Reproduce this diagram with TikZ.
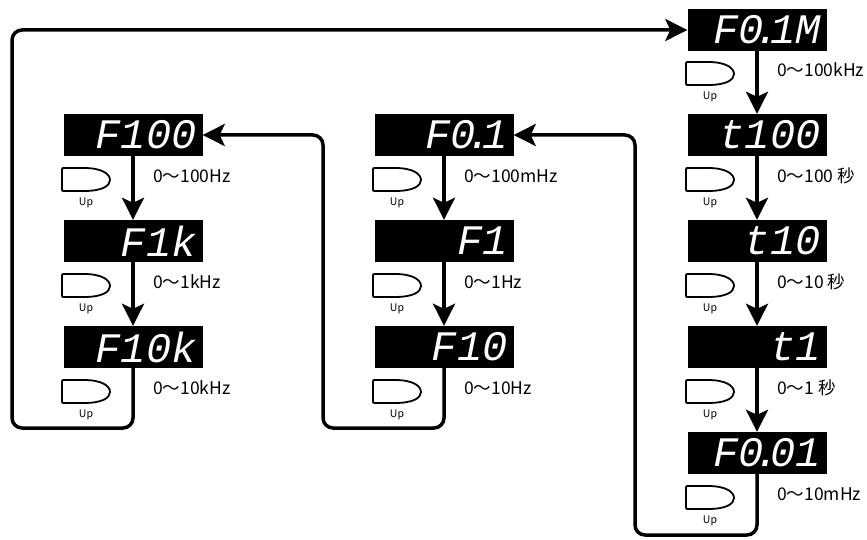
\documentclass[tikz,border=0pt]{standalone}
\usepackage{fontspec}
\usetikzlibrary{arrows.meta}
\newfontfamily\cjkfont{Noto Sans CJK JP}
\newfontfamily\segfont{Liberation Mono}
\newcommand\segdot{\makebox[.15em]{.}}

\begin{document}
\begin{tikzpicture}[x=1pt, y=-1pt,
  disp/.style={fill=black, text=white, inner xsep=6pt, inner ysep=0pt,
    text width=127pt, align=right, minimum height=42pt,
    font=\segfont\itshape\fontsize{42}{42}\selectfont},
  rng/.style={anchor=west, inner sep=0pt, font=\cjkfont\fontsize{17.5}{20}\selectfont},
  uplbl/.style={inner sep=0pt, font=\cjkfont\fontsize{10.5}{12}\selectfont},
  flow/.style={line width=3.5pt, -{Stealth[length=22pt, width=22pt, inset=5pt]}},
  upkey/.pic={\draw[line width=1.8pt, line join=round]
    (2,0) -- (22,0) .. controls (40,0) and (48,6) .. (48,12)
    .. controls (48,18) and (40,23) .. (22,23) -- (2,23)
    .. controls (0,23) .. (0,21) -- (0,2) .. controls (0,0) .. (2,0) -- cycle;}]
\useasboundingbox (0,0) rectangle (867,540);

% right column
\node[disp] (f01m) at (757,30) {F0\segdot1M};
\node[disp] (t100) at (757,135) {t100};
\node[disp] (t10) at (757,241) {t10};
\node[disp] (t1) at (757,347) {t1};
\node[disp] (f001) at (757,453) {F0\segdot01};
% left column
\node[disp] (f100) at (133,135) {F100};
\node[disp] (f1k) at (133,241) {F1k};
\node[disp] (f10k) at (133,347) {F10k};
% middle column
\node[disp] (f01) at (444,135) {F0\segdot1};
\node[disp] (f1) at (444,241) {F1};
\node[disp] (f10) at (444,347) {F10};

% Up keys
\pic at (686,62) {upkey};  \node[uplbl] (up1) at (710,97) {Up};
\pic at (686,168) {upkey}; \node[uplbl] (up2) at (710,203) {Up};
\pic at (686,274) {upkey}; \node[uplbl] (up3) at (710,309) {Up};
\pic at (686,380) {upkey}; \node[uplbl] (up4) at (710,415) {Up};
\pic at (686,486) {upkey}; \node[uplbl] (up5) at (710,521) {Up};
\pic at (62,168) {upkey};  \node[uplbl] (up6) at (86,203) {Up};
\pic at (62,274) {upkey};  \node[uplbl] (up7) at (86,309) {Up};
\pic at (62,380) {upkey};  \node[uplbl] (up8) at (86,415) {Up};
\pic at (373,168) {upkey}; \node[uplbl] (up9) at (397,203) {Up};
\pic at (373,274) {upkey}; \node[uplbl] (up10) at (397,309) {Up};
\pic at (373,380) {upkey}; \node[uplbl] (up11) at (397,415) {Up};

% ranges
\node[rng] (r1) at (777,70) {0〜100kHz};
\node[rng] (r2) at (777,176) {0〜100 秒};
\node[rng] (r3) at (777,282) {0〜10 秒};
\node[rng] (r4) at (777,388) {0〜1 秒};
\node[rng] (r5) at (777,494) {0〜10mHz};
\node[rng] (r6) at (153,176) {0〜100Hz};
\node[rng] (r7) at (153,282) {0〜1kHz};
\node[rng] (r8) at (153,388) {0〜10kHz};
\node[rng] (r9) at (464,176) {0〜100mHz};
\node[rng] (r10) at (464,282) {0〜1Hz};
\node[rng] (r11) at (464,388) {0〜10Hz};

% steps
\draw[flow] (f01m) -- (t100);
\draw[flow] (t100) -- (t10);
\draw[flow] (t10) -- (t1);
\draw[flow] (t1) -- (f001);
\draw[flow] (f100) -- (f1k);
\draw[flow] (f1k) -- (f10k);
\draw[flow] (f01) -- (f1);
\draw[flow] (f1) -- (f10);

% loops back
\coordinate (lbot) at (12,428);
\coordinate (mbot) at (323,428);
\coordinate (rbot) at (635,535);
\draw[flow, rounded corners=10pt] (f10k.south) |- (lbot) |- (f01m.west);
\draw[flow, rounded corners=10pt] (f10.south) |- (mbot) |- (f100.east);
\draw[flow, rounded corners=10pt] (f001.south) |- (rbot) |- (f01.east);
\end{tikzpicture}
\end{document}
